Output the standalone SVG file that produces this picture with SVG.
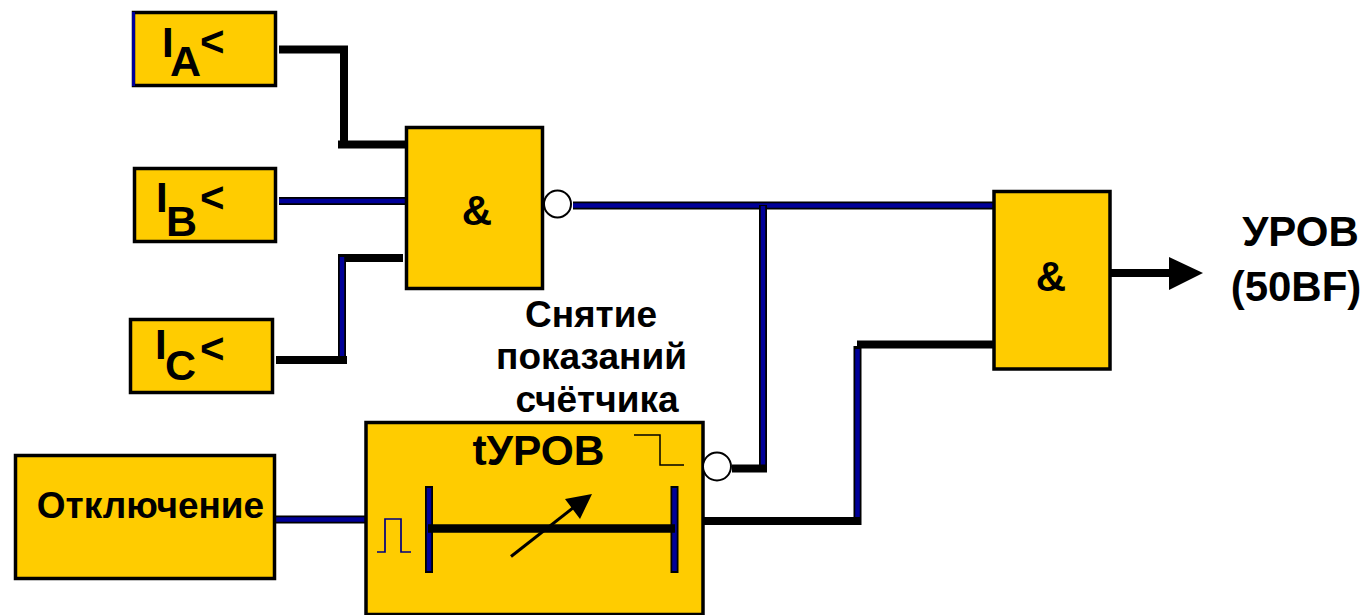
<svg xmlns="http://www.w3.org/2000/svg" width="1366" height="615" viewBox="0 0 1366 615">
<style>
.box{fill:#ffcc00;stroke:#000;stroke-width:3.5}
.t{font-family:"Liberation Sans",Arial,sans-serif;font-weight:700;fill:#000}
.k{fill:none;stroke:#000;stroke-width:8}
.bi{fill:none;stroke:#000099;stroke-width:4.5}
.inv{fill:#fff;stroke:#000;stroke-width:2}
</style>
<rect width="1366" height="615" fill="#fff"/>
<g id="connectors">
<path class="k" d="M279 49.500H344V144M338 144.500H405"/>
<path class="k" d="M279 201H405"/><path class="bi" d="M279 201H405"/>
<path class="k" d="M403 258H342"/><path class="k" d="M276 360H347"/>
<path class="k" d="M342 254V364"/><path class="bi" d="M342 257V356"/>
<path class="k" d="M573 205.500H993"/><path class="bi" d="M573 205.500H993"/>
<path class="k" d="M763 205V472"/><path class="bi" d="M763 206V465"/>
<path class="k" d="M732 468.500H767"/>
<path class="k" d="M271 519.500H368"/><path class="bi" d="M271 519.500H368"/>
<path class="k" d="M702 521H861"/>
<path class="k" d="M857.500 525V346"/><path class="bi" d="M857.500 517V349"/>
<path class="k" d="M857 344.500H994"/>
<path class="k" d="M1109 273H1170"/>
<polygon points="1169,257 1203,273 1169,290" fill="#000"/>
</g>
<g id="ia"><rect class="box" x="133.500" y="12.500" width="142" height="73"/><path d="M133.500 12V86" stroke="#000099" stroke-width="3"/><text class="t" x="162" y="57" font-size="42">I<tspan x="170" y="76" font-size="43">A</tspan><tspan x="200" y="56" font-size="42">&lt;</tspan></text></g>
<g id="ib"><rect class="box" x="134.500" y="168.500" width="141" height="73"/><text class="t" x="156" y="212" font-size="42">I<tspan x="166" y="236" font-size="43">B</tspan><tspan x="200" y="212" font-size="42">&lt;</tspan></text></g>
<g id="ic"><rect class="box" x="130.500" y="319.500" width="142" height="73"/><text class="t" x="155" y="359" font-size="42">I<tspan x="165" y="380" font-size="43">C</tspan><tspan x="200" y="363" font-size="42">&lt;</tspan></text></g>
<g id="and1"><rect class="box" x="406.500" y="127.500" width="136" height="161"/><text class="t" x="477" y="225" font-size="42" text-anchor="middle">&amp;</text></g>
<g id="inv1"><circle class="inv" cx="557.500" cy="204" r="13.500"/></g>
<g id="and2"><rect class="box" x="994" y="191.500" width="116" height="177.500"/><text class="t" x="1051" y="291" font-size="42" text-anchor="middle">&amp;</text></g>
<g id="trip"><rect class="box" x="15.500" y="455.500" width="259" height="123"/><text class="t" x="150.500" y="518" font-size="37" text-anchor="middle">Отключение</text></g>
<g id="timer"><rect class="box" x="366" y="422.500" width="337" height="192"/>
<text class="t" x="538.500" y="465" font-size="42.500" text-anchor="middle">tУРОВ</text>
<path d="M634 435H660V465H684" fill="none" stroke="#000" stroke-width="1.500"/>
<path d="M377 552H385V519H401V552H411" fill="none" stroke="#000080" stroke-width="1.700"/>
<path d="M429 486V573M674.500 486V573" stroke="#000" stroke-width="8" fill="none"/>
<path d="M429 488V571M674.500 488V571" stroke="#000099" stroke-width="4.500" fill="none"/>
<path d="M428 528.500H675" stroke="#000" stroke-width="8.500" fill="none"/>
<path d="M511 556.500L578 504" stroke="#000" stroke-width="3" fill="none"/>
<polygon points="565,499 592,494 580,519" fill="#000"/>
</g>
<g id="inv2"><circle class="inv" cx="717" cy="466.500" r="14"/></g>
<g id="labels">
<text class="t" x="591" y="327" font-size="37" text-anchor="middle">Снятие</text>
<text class="t" x="591.500" y="369" font-size="37" text-anchor="middle">показаний</text>
<text class="t" x="597" y="412" font-size="37" text-anchor="middle">счётчика</text>
<text class="t" x="1300.500" y="246" font-size="42" text-anchor="middle">УРОВ</text>
<text class="t" x="1296" y="301" font-size="42" text-anchor="middle">(50BF)</text>
</g>
</svg>
